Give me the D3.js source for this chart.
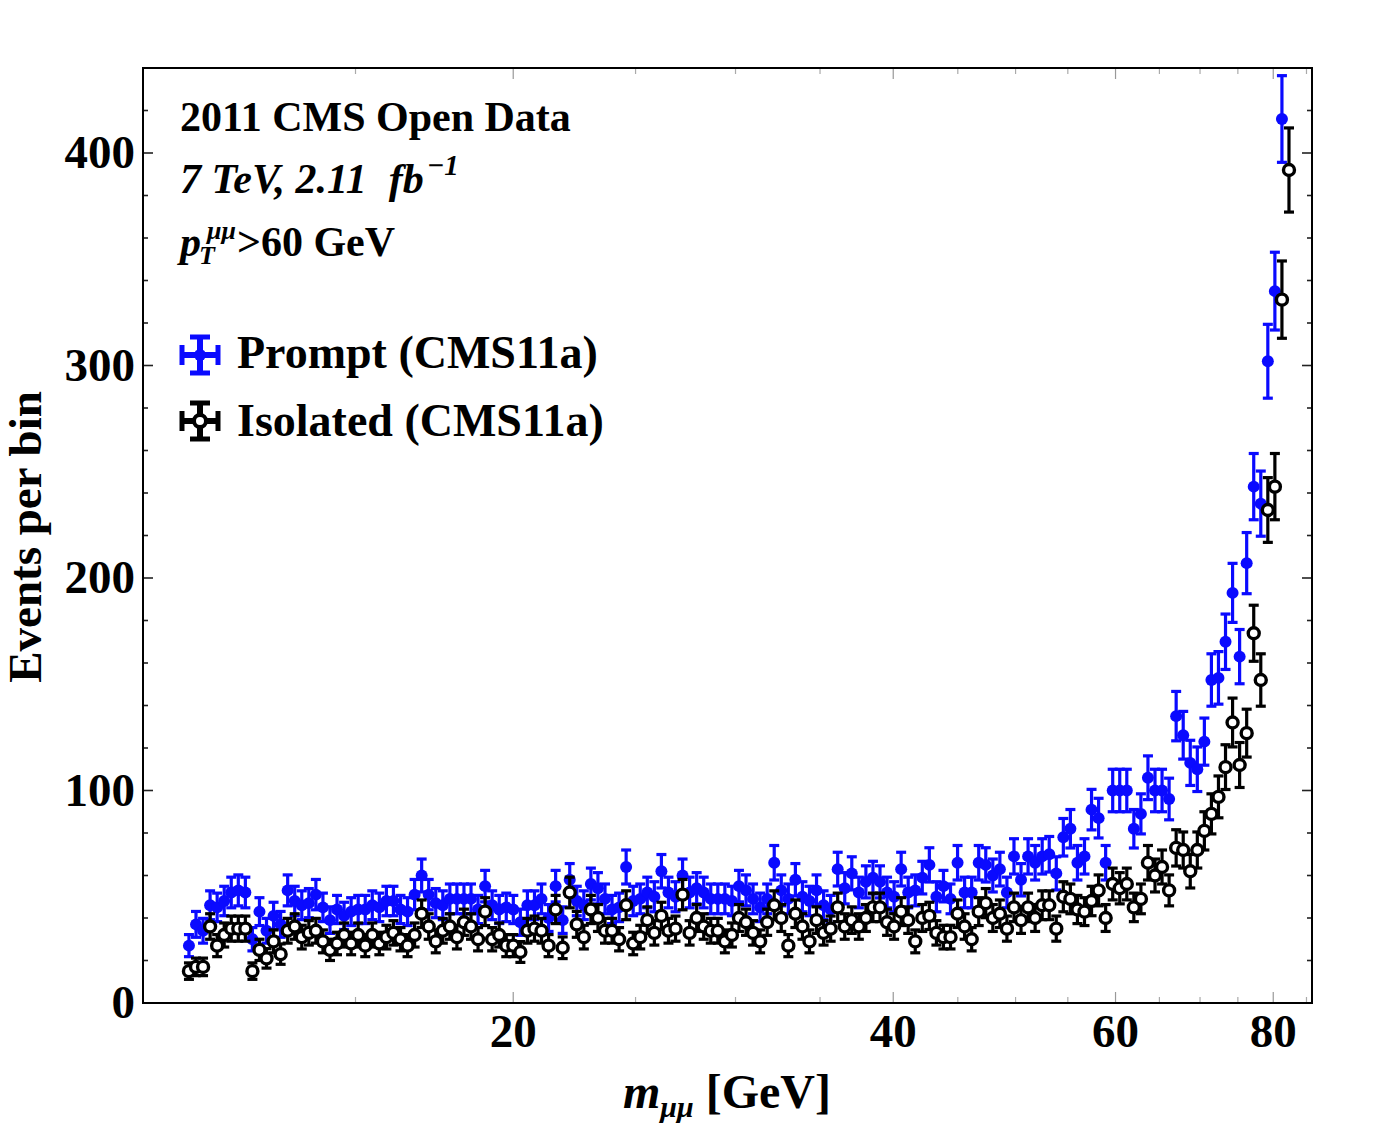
<!DOCTYPE html>
<html><head><meta charset="utf-8">
<script src="https://cdn.jsdelivr.net/npm/d3@7"></script>
<style>
body{margin:0;background:#fff}
svg{display:block}
text{font-family:"Liberation Serif","Times New Roman",serif;font-weight:bold;fill:#000}
</style>
</head><body>
<svg id="chart" width="1375" height="1128"></svg>
<script>
// ---- data ----
// log-spaced invariant-mass bins: first and last bin centres (GeV) and count
const binFirst = 11.07, binLast = 82.33, binCount = 157;
// Events per bin, prompt muon pairs (blue) – null = off scale
const prompt = [27,37,34,46,45,48,52,53,52,30, 43,34,41,37,53,48,46,47,51,45,
 39,44,41,43,44,44,46,45,48,48, 44,43,51,60,51,47,46,49,49,49,
 49,44,55,46,44,45,44,38,46,46, 49,40,55,39,58,48,46,56,54,49,
 44,45,64,48,49,52,50,62,52,50, 60,52,54,52,49,49,49,48,55,53,
 49,45,49,66,53,49,58,50,48,53, 46,44,63,54,61,52,57,59,57,52,
 50,63,52,53,59,65,50,55,49,66, 52,52,66,65,60,63,52,69,58,69,
 66,69,70,61,78,82,66,69,91,87, 66,100,100,100,82,89,106,100,100,96,
 135,126,113,110,123,152,153,170,193,163, 207,243,235,302,335,416,null];
// Events per bin, isolated muon pairs (black)
const isolated = [15,17,17,36,27,32,35,35,35,15, 25,21,29,23,34,36,31,33,34,29,
 25,28,32,28,32,27,32,28,31,33, 30,27,32,42,36,29,34,36,31,38,
 36,30,43,30,32,27,27,24,34,35, 34,27,44,26,52,37,31,44,40,34,
 34,30,46,28,31,39,33,41,34,35, 51,33,40,36,34,34,29,32,40,38,
 33,29,38,46,40,27,42,36,29,39, 33,35,45,36,39,36,40,45,45,38,
 36,43,39,29,40,41,33,31,31,42, 36,30,43,47,40,42,35,45,39,45,
 40,46,46,35,50,49,44,43,48,53, 40,56,54,56,45,49,66,60,64,53,
 73,72,62,72,81,89,97,111,132,112, 127,174,152,232,243,331,392];
const xMajorTicks = [20,40,60,80];
const xMinorTicks = [15,25,30,35,45,50,55,65,70,75,85];
const yMajorTicks = [0,100,200,300,400];
const yMinorTicks = [20,40,60,80,120,140,160,180,220,240,260,280,320,340,360,380,420,440];
const headerLines = ["2011 CMS Open Data"];
const seriesNames = ["Prompt (CMS11a)","Isolated (CMS11a)"];
const colors = {prompt:"#0a0aff", isolated:"#000000"};

// ---- layout ----
const L = 143, R = 1312, T = 68, B = 1003;
const svg = d3.select("#chart");
const x = d3.scaleLog().domain([10.18, 85.86]).range([L, R]);
const y = d3.scaleLinear().domain([0, 440]).range([B, T]);
const bins = d3.range(binCount).map(i => binFirst * Math.pow(binLast / binFirst, i / (binCount - 1)));

svg.append("defs").append("clipPath").attr("id","plotclip")
  .append("rect").attr("x",L).attr("y",T).attr("width",R-L).attr("height",B-T);

// ticks (all four sides)
const tickG = svg.append("g");
function xt(vals, len, col){
  vals.forEach(v=>{
    tickG.append("line").attr("x1",x(v)).attr("x2",x(v)).attr("y1",B).attr("y2",B-len).attr("stroke",col).attr("stroke-width",1.2);
    tickG.append("line").attr("x1",x(v)).attr("x2",x(v)).attr("y1",T).attr("y2",T+len).attr("stroke",col).attr("stroke-width",1.2);
  });
}
xt(xMajorTicks, 11, "#999");
xt(xMinorTicks, 6, "#aaa");
function yt(vals, len){
  vals.forEach(v=>{
    tickG.append("line").attr("x1",L).attr("x2",L+len).attr("y1",y(v)).attr("y2",y(v)).attr("stroke","#222").attr("stroke-width",1.6);
    tickG.append("line").attr("x1",R).attr("x2",R-len).attr("y1",y(v)).attr("y2",y(v)).attr("stroke","#222").attr("stroke-width",1.6);
  });
}
yt(yMajorTicks, 10);
yt(yMinorTicks, 5);

// frame
svg.append("rect").attr("x",L).attr("y",T).attr("width",R-L).attr("height",B-T)
  .attr("fill","none").attr("stroke","#000").attr("stroke-width",2);

// tick labels
svg.append("g").selectAll("text").data(yMajorTicks).join("text")
  .attr("x",135).attr("y",d=>y(d)+15).attr("text-anchor","end")
  .style("font-size","47px").text(d=>d);
svg.append("g").selectAll("text").data(xMajorTicks).join("text")
  .attr("x",d=>x(d)).attr("y",1047).attr("text-anchor","middle")
  .style("font-size","47px").text(d=>d);

// axis titles
svg.append("text").attr("transform","translate(41,537) rotate(-90)")
  .attr("text-anchor","middle").style("font-size","47px").text("Events per bin");
const xl = svg.append("text").attr("x",727).attr("y",1108).attr("text-anchor","middle").style("font-size","48px");
xl.append("tspan").style("font-style","italic").text("m");
xl.append("tspan").style("font-style","italic").style("font-size","30px").attr("dy",9).text("μμ");
xl.append("tspan").attr("dy",-9).text(" [GeV]");

// data marks
const plot = svg.append("g").attr("clip-path","url(#plotclip)");
function drawSeries(vals, color, open){
  const pts = vals.map((v,i)=>({m:bins[i], v})).filter(d=>d.v!=null);
  const g = plot.append("g");
  const eb = g.selectAll("g.eb").data(pts).join("g");
  eb.append("line").attr("x1",d=>x(d.m)).attr("x2",d=>x(d.m))
    .attr("y1",d=>y(d.v-Math.sqrt(d.v))).attr("y2",d=>y(d.v+Math.sqrt(d.v)))
    .attr("stroke",color).attr("stroke-width",3.2);
  [-1,1].forEach(s=>{
    eb.append("line").attr("x1",d=>x(d.m)-5).attr("x2",d=>x(d.m)+5)
      .attr("y1",d=>y(d.v+s*Math.sqrt(d.v))).attr("y2",d=>y(d.v+s*Math.sqrt(d.v)))
      .attr("stroke",color).attr("stroke-width",3.2);
  });
  g.selectAll("circle").data(pts).join("circle")
    .attr("cx",d=>x(d.m)).attr("cy",d=>y(d.v))
    .attr("r", open?5.5:6)
    .attr("fill", open?"#fff":color)
    .attr("stroke", open?color:"none").attr("stroke-width",3.4);
}
drawSeries(prompt, colors.prompt, false);
drawSeries(isolated, colors.isolated, true);

// header text
svg.append("text").attr("x",180).attr("y",131).style("font-size","42px").text(headerLines[0]);
const l2 = svg.append("text").attr("x",180).attr("y",193).style("font-size","42px").style("font-style","italic");
l2.append("tspan").text("7 TeV, 2.11");
l2.append("tspan").attr("dx",22).text("fb");
l2.append("tspan").attr("dy",-18).attr("dx",3).style("font-size","29px").text("−1");
svg.append("text").attr("x",180).attr("y",256).style("font-size","42px").style("font-style","italic").text("p");
svg.append("text").attr("x",199).attr("y",264).style("font-size","26px").style("font-style","italic").text("T");
svg.append("text").attr("x",207).attr("y",239).style("font-size","26px").style("font-style","italic").text("μμ");
svg.append("text").attr("x",237).attr("y",256).style("font-size","42px").text(">60 GeV");

// legend
function legendIcon(cx, cy, color, open){
  const g = svg.append("g").attr("stroke",color);
  g.append("line").attr("x1",cx-20).attr("x2",cx+20).attr("y1",cy).attr("y2",cy).attr("stroke-width",6);
  g.append("line").attr("x1",cx).attr("x2",cx).attr("y1",cy-20).attr("y2",cy+20).attr("stroke-width",6);
  g.append("line").attr("x1",cx-10).attr("x2",cx+10).attr("y1",cy-18).attr("y2",cy-18).attr("stroke-width",5);
  g.append("line").attr("x1",cx-10).attr("x2",cx+10).attr("y1",cy+18).attr("y2",cy+18).attr("stroke-width",5);
  g.append("line").attr("x1",cx-18).attr("x2",cx-18).attr("y1",cy-10).attr("y2",cy+10).attr("stroke-width",5);
  g.append("line").attr("x1",cx+18).attr("x2",cx+18).attr("y1",cy-10).attr("y2",cy+10).attr("stroke-width",5);
  g.append("circle").attr("cx",cx).attr("cy",cy).attr("r",6)
    .attr("fill",open?"#fff":color).attr("stroke-width",open?4:0);
}
legendIcon(200,355,colors.prompt,false);
legendIcon(200,421,colors.isolated,true);
svg.append("text").attr("x",237).attr("y",368).style("font-size","46px").text(seriesNames[0]);
svg.append("text").attr("x",237).attr("y",436).style("font-size","46px").text(seriesNames[1]);
</script>
</body></html>
